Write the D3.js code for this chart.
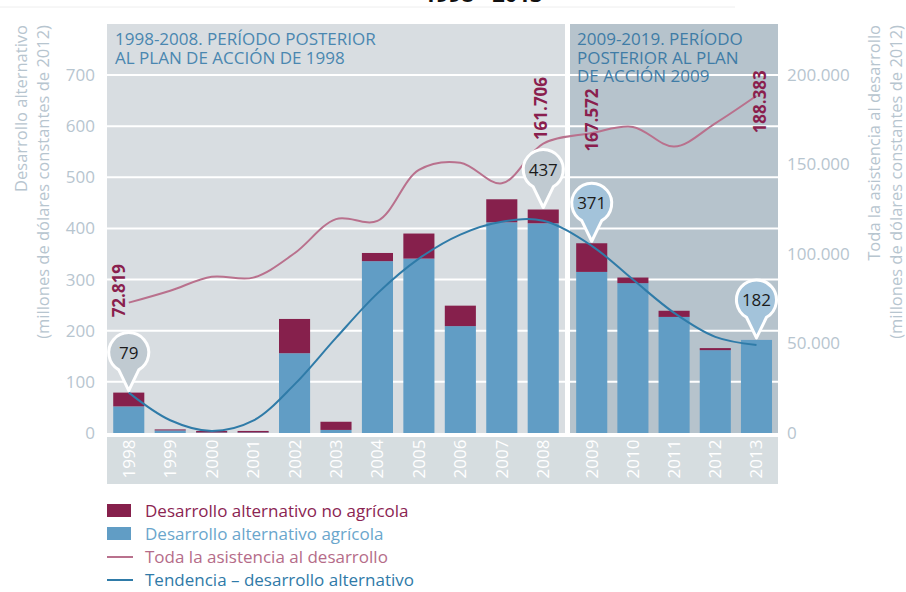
<!DOCTYPE html>
<html>
<head>
<meta charset="utf-8">
<script src="https://cdn.jsdelivr.net/npm/d3@7"></script>
<style>
    body { margin: 0; background: #fff; }
    svg { display: block; font-family: "Open Sans", "DejaVu Sans", sans-serif; }
</style>
</head>
<body>
<svg id="chart" width="906" height="592"></svg>
<script>
// Data
const years = ['1998','1999','2000','2001','2002','2003','2004','2005','2006','2007','2008','2009','2010','2011','2012','2013'];
const agricola   = [52, 5, 1, 1, 156, 6, 336, 341, 209, 412, 410, 315, 293, 227, 162, 182];
const noAgricola = [27, 2, 3, 3, 67, 16, 16, 49, 40, 45, 27, 56, 11, 12, 4, 0];
const asistencia = [72819, 79500, 87300, 86800, 100400, 119500, 118500, 147000, 151000, 139500, 161706, 167572, 171000, 160000, 173000, 188383];
const tendencia  = [79, 25, 4, 24, 95, 186, 273, 341, 388, 413, 415, 366, 300, 235, 188, 172];
const calloutYears = ['1998', '2008', '2009', '2013'];
const labelYears = ['1998', '2008', '2009', '2013'];
const leftTicks = [0, 100, 200, 300, 400, 500, 600, 700];
const rightTicks = [0, 50000, 100000, 150000, 200000];
const period1 = years.slice(0, 11);
const period2 = years.slice(11);

const data = years.map((y, i) => ({
    year: y,
    agr: agricola[i],
    noAgr: noAgricola[i],
    total: agricola[i] + noAgricola[i],
    asis: asistencia[i],
    trend: tendencia[i]
}));

const svg = d3.select('#chart');
const plotTop = 24, headerBottom = 75, plotBottom = 433;
const plotLeft = 107, plotRight = 778, split1 = 565, split2 = 570;

const x1 = d3.scaleBand().domain(period1).range([plotLeft, split1]).paddingInner(0.25).paddingOuter(0.15);
const x2 = d3.scaleBand().domain(period2).range([split2, plotRight]).paddingInner(0.25).paddingOuter(0.15);
const xPos = y => (period1.includes(y) ? x1(y) : x2(y));
const bw = x1.bandwidth();
const cx = y => xPos(y) + bw / 2;

const yL = d3.scaleLinear().domain([0, 700]).range([plotBottom, headerBottom]);
const yR = d3.scaleLinear().domain([0, 200000]).range([plotBottom, headerBottom]);

const esLocale = d3.formatLocale({ decimal: ',', thousands: '.', grouping: [3], currency: ['', ' €'] });
const fmt = esLocale.format(',');

// title (cut off at the top of the picture)
svg.append('text')
    .attr('x', 483).attr('y', 2)
    .attr('text-anchor', 'middle')
    .style('font-size', '22px').style('font-weight', 'bold').style('fill', '#111')
    .text('1998 - 2013');
svg.append('line').attr('x1', 0).attr('x2', 735).attr('y1', 7).attr('y2', 7)
    .style('stroke', '#eeeeee').style('stroke-width', 1);

// panel backgrounds
svg.append('rect').attr('x', plotLeft).attr('y', plotTop).attr('width', split1 - plotLeft).attr('height', plotBottom - plotTop)
    .style('fill', '#d8dde1');
svg.append('rect').attr('x', split2).attr('y', plotTop).attr('width', plotRight - split2).attr('height', plotBottom - plotTop)
    .style('fill', '#b6c3cc');

// year band
svg.append('rect').attr('x', plotLeft).attr('y', 437).attr('width', plotRight - plotLeft).attr('height', 47)
    .style('fill', '#d6dde0');

// gridlines
svg.append('g').selectAll('line')
    .data(leftTicks.filter(d => d > 0))
    .enter().append('line')
    .attr('x1', plotLeft).attr('x2', plotRight)
    .attr('y1', d => yL(d)).attr('y2', d => yL(d))
    .style('stroke', '#fff').style('stroke-width', 2);

// panel headers
const head1 = svg.append('text').attr('x', 115).attr('y', 45)
    .style('font-size', '17px').style('fill', '#4a87b0');
head1.append('tspan').attr('x', 115).attr('dy', 0).text('1998-2008. PERÍODO POSTERIOR');
head1.append('tspan').attr('x', 115).attr('dy', 18.5).text('AL PLAN DE ACCIÓN DE 1998');

const head2 = svg.append('text').attr('x', 577).attr('y', 45)
    .style('font-size', '17px').style('fill', '#3f7ca6');
head2.append('tspan').attr('x', 577).attr('dy', 0).text('2009-2019. PERÍODO');
head2.append('tspan').attr('x', 577).attr('dy', 18.5).text('POSTERIOR AL PLAN');
head2.append('tspan').attr('x', 577).attr('dy', 18.5).text('DE ACCIÓN 2009');

// bars
const bars = svg.append('g');
bars.selectAll('.agr')
    .data(data)
    .enter().append('rect')
    .attr('class', 'agr')
    .attr('x', d => xPos(d.year))
    .attr('y', d => yL(d.agr))
    .attr('width', bw)
    .attr('height', d => plotBottom - yL(d.agr))
    .style('fill', '#619dc5');
bars.selectAll('.noagr')
    .data(data)
    .enter().append('rect')
    .attr('class', 'noagr')
    .attr('x', d => xPos(d.year))
    .attr('y', d => yL(d.total))
    .attr('width', bw)
    .attr('height', d => yL(d.agr) - yL(d.total))
    .style('fill', '#86204c');

// total development assistance line
const asisLine = d3.line()
    .x(d => cx(d.year))
    .y(d => yR(d.asis))
    .curve(d3.curveCatmullRom.alpha(0.5));
svg.append('path').datum(data)
    .attr('d', asisLine)
    .style('fill', 'none').style('stroke', '#b9718d').style('stroke-width', 2);

// trend line
const trendLine = d3.line()
    .x(d => cx(d.year))
    .y(d => yL(d.trend))
    .curve(d3.curveCatmullRom.alpha(0.5));
svg.append('path').datum(data)
    .attr('d', trendLine)
    .style('fill', 'none').style('stroke', '#2f7ba8').style('stroke-width', 2);

// left axis
const axL = svg.append('g').attr('transform', `translate(${plotLeft},0)`)
    .call(d3.axisLeft(yL).tickValues(leftTicks).tickSize(0).tickPadding(12));
axL.select('.domain').remove();
axL.selectAll('text').style('font-size', '17px').style('fill', '#b7c5cf')
    .style('font-family', '"Open Sans", sans-serif');

// right axis
const axR = svg.append('g').attr('transform', `translate(${plotRight},0)`)
    .call(d3.axisRight(yR).tickValues(rightTicks).tickFormat(fmt).tickSize(0).tickPadding(9));
axR.select('.domain').remove();
axR.selectAll('text').style('font-size', '17px').style('fill', '#b7c5cf')
    .style('font-family', '"Open Sans", sans-serif');

// year labels
[x1, x2].forEach(sc => {
    const ax = svg.append('g').attr('transform', 'translate(0,459)')
        .call(d3.axisBottom(sc).tickSize(0).tickPadding(0));
    ax.select('.domain').remove();
    ax.selectAll('text')
        .attr('y', 0).attr('dy', '0.35em')
        .attr('transform', 'rotate(-90)')
        .attr('text-anchor', 'middle')
        .style('font-size', '17px').style('fill', '#ffffff')
        .style('font-family', '"Open Sans", sans-serif');
});

// axis titles
function vTitle(xs, lines) {
    lines.forEach((t, i) => {
        svg.append('text')
            .attr('transform', `translate(${xs[i]},25) rotate(-90)`)
            .attr('text-anchor', 'end')
            .attr('dy', '0.35em')
            .style('font-size', '16.5px').style('fill', '#b7c5cf')
            .text(t);
    });
}
vTitle([21, 43], ['Desarrollo alternativo', '(millones de dólares constantes de 2012)']);
vTitle([874, 896], ['Toda la asistencia al desarrollo', '(millones de dólares constantes de 2012)']);

// value labels for total assistance
const labelOffset = { '1998': [-10, -12], '2008': [-2, -35], '2009': [0, -13], '2013': [4, 6] };
svg.append('g').selectAll('text')
    .data(data.filter(d => labelYears.includes(d.year)))
    .enter().append('text')
    .attr('transform', d => `translate(${cx(d.year) + labelOffset[d.year][0]},${yR(d.asis) + labelOffset[d.year][1]}) rotate(-90)`)
    .attr('text-anchor', 'middle')
    .attr('dy', '0.35em')
    .style('font-size', '17px').style('font-weight', 'bold').style('fill', '#8a1f4e')
    .text(d => fmt(d.asis));

// callout pins
const r = 20;
const pins = svg.append('g').selectAll('g')
    .data(data.filter(d => calloutYears.includes(d.year)))
    .enter().append('g')
    .attr('transform', d => `translate(${cx(d.year)},${yL(d.total) - 40})`);
pins.append('path')
    .attr('d', `M${-r * 0.5},${r * 0.866} A${r},${r} 0 1 1 ${r * 0.5},${r * 0.866} L0,38 Z`)
    .style('fill', d => (period1.includes(d.year) ? '#c0cad1' : '#a3c3da'))
    .style('stroke', '#fff').style('stroke-width', 3).style('stroke-linejoin', 'round');
pins.append('text')
    .attr('text-anchor', 'middle').attr('dy', '0.36em')
    .style('font-size', '17px').style('fill', '#1b1b1b')
    .text(d => d.total);

// legend
const legend = svg.append('g').attr('transform', 'translate(107,0)');
const legendItems = [
    { label: 'Desarrollo alternativo no agrícola', color: '#86204c', text: '#8b2452', type: 'rect' },
    { label: 'Desarrollo alternativo agrícola', color: '#619dc5', text: '#6aa6cc', type: 'rect' },
    { label: 'Toda la asistencia al desarrollo', color: '#b9718d', text: '#b56c89', type: 'line' },
    { label: 'Tendencia – desarrollo alternativo', color: '#2f7ba8', text: '#2f7aa8', type: 'line' }
];
legendItems.forEach((d, i) => {
    const yy = 511 + i * 23;
    if (d.type === 'rect') {
        legend.append('rect').attr('x', 0).attr('y', yy - 7).attr('width', 24).attr('height', 13).style('fill', d.color);
    } else {
        legend.append('line').attr('x1', 0).attr('x2', 26).attr('y1', yy).attr('y2', yy)
            .style('stroke', d.color).style('stroke-width', 2);
    }
    legend.append('text').attr('x', 38).attr('y', yy).attr('dy', '0.35em')
        .style('font-size', '17px').style('fill', d.text)
        .text(d.label);
});
</script>
</body>
</html>
